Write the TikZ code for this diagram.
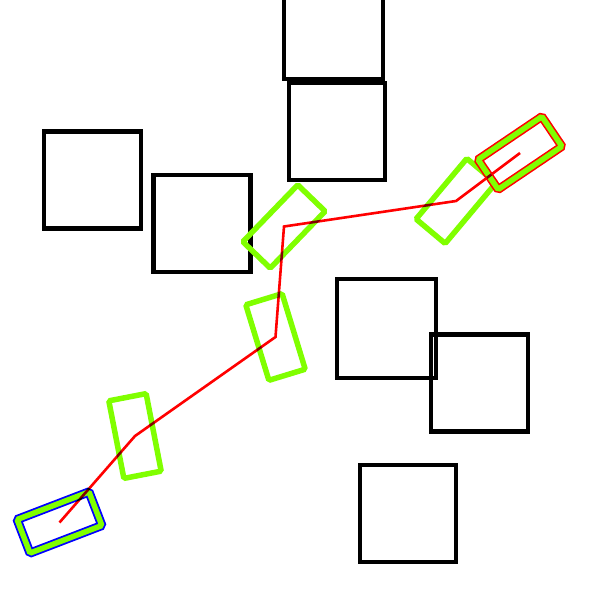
\documentclass[tikz,border=0pt]{standalone}
\usepackage{tikz}
\usepackage{xcolor}
\usetikzlibrary{positioning}
\definecolor{wall}{HTML}{000000}
\definecolor{posegreen}{HTML}{80FF00}
\definecolor{startblue}{HTML}{0000FF}
\definecolor{routered}{HTML}{FF0000}
\tikzset{
  obstacle/.style={draw=wall,line width=4.5pt,rectangle,
                   minimum width=97pt,minimum height=97pt,inner sep=0pt},
  pose/.style={draw=posegreen,line width=5.5pt,rectangle,rounded corners=1.5pt,
               minimum width=79pt,minimum height=38pt,inner sep=0pt},
  startpose/.style={pose,draw=startblue,double=posegreen,minimum width=77pt,
                    minimum height=36pt,double distance=5.5pt,line width=1.8pt},
  goalpose/.style={pose,draw=routered,double=posegreen,minimum width=77pt,
                   minimum height=36pt,double distance=5.5pt,line width=1.6pt},
  route/.style={draw=routered,line width=2.6pt,line join=miter}
}

\begin{document}
\begin{tikzpicture}[x=1pt,y=-1pt]
  \useasboundingbox (0,0) rectangle (600,600);
  \clip (0,0) rectangle (600,600);

  % obstacles
  \node[obstacle,minimum width=99pt,minimum height=99pt] (wallA) at (333.5,29.5) {};
  \node[obstacle,minimum width=96pt] (wallB) at (337,131.5) {};
  \node[obstacle] (wallC) at (92.5,180) {};
  \node[obstacle] (wallD) at (202,223.5) {};
  \node[obstacle,minimum width=99pt,minimum height=99pt] (wallE) at (386.5,328.5) {};
  \node[obstacle] (wallF) at (479.5,383) {};
  \node[obstacle,minimum width=96pt] (wallG) at (408,513.5) {};

  % poses along the route
  \node[pose,rotate=-79] (wpA) at (135,436) {};
  \node[pose,rotate=-73] (wpB) at (275.5,337) {};
  \node[pose,rotate=46] (wpC) at (284,226.5) {};
  \node[pose,rotate=50] (wpD) at (456,201) {};
  \node[startpose,rotate=21] (start) at (59.5,522.5) {};
  \node[goalpose,rotate=34] (goal) at (520,153) {};

  \begin{scope}[blend mode=multiply]
    \draw[route] (start.center) -- (wpA.center) -- (wpB.center)
      -- (wpC.center) -- (wpD.center) -- (goal.center);
  \end{scope}
\end{tikzpicture}
\end{document}
